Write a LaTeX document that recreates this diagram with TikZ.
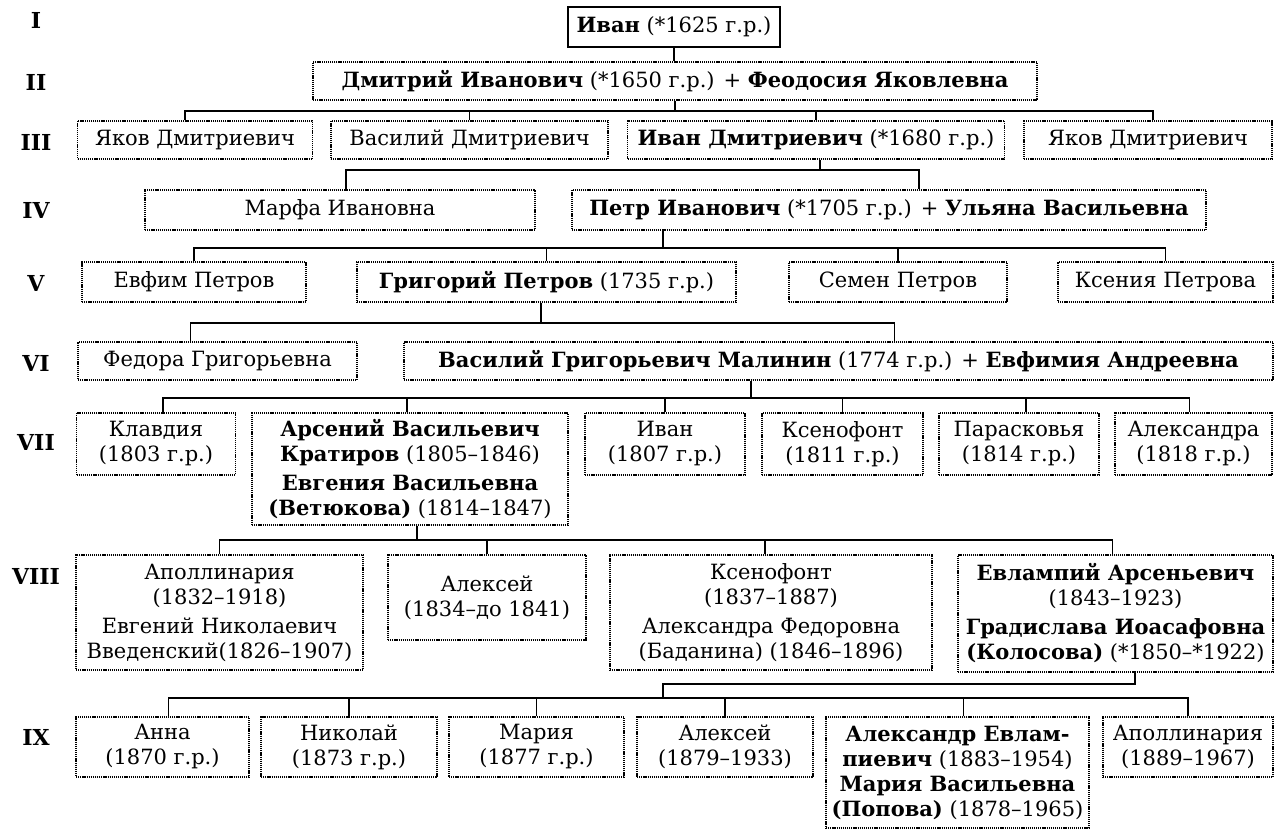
\documentclass[tikz,border=0pt]{standalone}
\usepackage{fontspec}
\setmainfont{DejaVu Serif}
\begin{document}
\begin{tikzpicture}[x=1pt,y=-1pt,
  person/.style={rectangle,draw=black,line width=1.2pt,dash pattern=on 1.2pt off 0.9pt,align=center,inner sep=1pt,font=\fontsize{21}{25}\selectfont},
  head/.style={person,solid},
  gen/.style={font=\fontsize{22}{26}\selectfont\bfseries},
  link/.style={line width=1.6pt}]
\useasboundingbox (0,0) rectangle (1275,833);

% generations
\node (g1) at (36,20)[gen]{I};
\node (g2) at (36,82)[gen]{II};
\node (g3) at (36,142)[gen]{III};
\node (g4) at (36,210)[gen]{IV};
\node (g5) at (36,283)[gen]{V};
\node (g6) at (36,363)[gen]{VI};
\node (g7) at (36,442)[gen]{VII};
\node (g8) at (36,576)[gen]{VIII};
\node (g9) at (36,737)[gen]{IX};

\node (r1) at (674,27)[head,minimum width=212,minimum height=40]{\textbf{Иван} (*1625 г.р.)};
\node (r2) at (675,81)[person,minimum width=724,minimum height=38]{\textbf{Дмитрий Иванович} (*1650 г.р.) + \textbf{Феодосия Яковлевна}};

\node (r3a) at (195,140)[person,minimum width=235,minimum height=38]{Яков Дмитриевич};
\node (r3b) at (469.5,140)[person,minimum width=277,minimum height=38]{Василий Дмитриевич};
\node (r3c) at (816,140)[person,minimum width=377,minimum height=38]{\textbf{Иван Дмитриевич} (*1680 г.р.)};
\node (r3d) at (1148,140)[person,minimum width=248,minimum height=38]{Яков Дмитриевич};

\node (r4a) at (340,210)[person,minimum width=390,minimum height=40]{Марфа Ивановна};
\node (r4b) at (889,210)[person,minimum width=634,minimum height=40]{\textbf{Петр Иванович} (*1705 г.р.) + \textbf{Ульяна Васильевна}};

\node (r5a) at (194,282)[person,minimum width=224,minimum height=40]{Евфим Петров};
\node (r5b) at (546.5,282)[person,minimum width=379,minimum height=40]{\textbf{Григорий Петров} (1735 г.р.)};
\node (r5c) at (898,282)[person,minimum width=218,minimum height=40]{Семен Петров};
\node (r5d) at (1165.5,282)[person,minimum width=215,minimum height=40]{Ксения Петрова};

\node (r6a) at (217.5,361)[person,minimum width=279,minimum height=38]{Федора Григорьевна};
\node (r6b) at (838.5,361)[person,minimum width=869,minimum height=38]{\textbf{Василий Григорьевич Малинин} (1774 г.р.) + \textbf{Евфимия Андреевна}};

\node (r7a) at (156,444)[person,minimum width=159,minimum height=62]{Клавдия\\(1803 г.р.)};
\node (r7b) at (410,469)[person,minimum width=316,minimum height=112]{\textbf{Арсений Васильевич}\\\textbf{Кратиров} (1805--1846)\\[4pt]\textbf{Евгения Васильевна}\\\textbf{(Ветюкова)} (1814--1847)};
\node (r7c) at (665,444)[person,minimum width=160,minimum height=62]{Иван\\(1807 г.р.)};
\node (r7d) at (842.5,444)[person,minimum width=161,minimum height=62]{Ксенофонт\\(1811 г.р.)};
\node (r7e) at (1019,444)[person,minimum width=160,minimum height=62]{Парасковья\\(1814 г.р.)};
\node (r7f) at (1193.5,444)[person,minimum width=157,minimum height=62]{Александра\\(1818 г.р.)};

\node (r8a) at (219.5,612.5)[person,minimum width=287,minimum height=115]{Аполлинария\\(1832--1918)\\[4pt]Евгений Николаевич\\Введенский(1826--1907)};
\node (r8b) at (487,597.5)[person,minimum width=198,minimum height=85]{Алексей\\(1834--до 1841)};
\node (r8c) at (771,612.5)[person,minimum width=322,minimum height=115]{Ксенофонт\\(1837--1887)\\[4pt]Александра Федоровна\\(Баданина) (1846--1896)};
\node (r8d) at (1115.5,613.5)[person,minimum width=315,minimum height=117]{\textbf{Евлампий Арсеньевич}\\(1843--1923)\\[4pt]\textbf{Градислава Иоасафовна}\\\textbf{(Колосова)} (*1850--*1922)};

\node (r9a) at (162.5,747)[person,minimum width=173,minimum height=60]{Анна\\(1870 г.р.)};
\node (r9b) at (349,747)[person,minimum width=176,minimum height=60]{Николай\\(1873 г.р.)};
\node (r9c) at (536.5,747)[person,minimum width=175,minimum height=60]{Мария\\(1877 г.р.)};
\node (r9d) at (725,747)[person,minimum width=176,minimum height=60]{Алексей\\(1879--1933)};
\node (r9e) at (957.5,772.5)[person,minimum width=263,minimum height=111]{\textbf{Александр Евлам-}\\\textbf{пиевич} (1883--1954)\\\textbf{Мария Васильевна}\\\textbf{(Попова)} (1878--1965)};
\node (r9f) at (1188,747)[person,minimum width=170,minimum height=60]{Аполлинария\\(1889--1967)};

% I -> II
\draw[link] (r1.south) -- (r1.south |- r2.north);

% II -> III
\coordinate (j2) at (675,111);
\draw[link] (r2.south) -- (j2);
\draw[link] ([xshift=-10]r3a.north) |- (j2) -| ([xshift=5]r3d.north);
\draw[link] (r3b.north) -- (r3b.north |- j2);
\draw[link] (r3c.north) -- (r3c.north |- j2);

% III -> IV
\coordinate (j3) at (820,170);
\draw[link] (j3 |- r3c.south) -- (j3);
\draw[link] ([xshift=6]r4a.north) |- (j3) -| ([xshift=30]r4b.north);

% IV -> V
\coordinate (j4) at (663,248);
\draw[link] (j4 |- r4b.south) -- (j4);
\draw[link] (r5a.north) |- (j4) -| (r5d.north);
\draw[link] (r5b.north) -- (r5b.north |- j4);
\draw[link] (r5c.north) -- (r5c.north |- j4);

% V -> VI
\coordinate (j5) at (541,323);
\draw[link] (j5 |- r5b.south) -- (j5);
\draw[link] ([xshift=-27]r6a.north) |- (j5) -| ([xshift=56]r6b.north);

% VI -> VII
\coordinate (j6) at (751,398);
\draw[link] (j6 |- r6b.south) -- (j6);
\draw[link] ([xshift=7]r7a.north) |- (j6) -| ([xshift=-4]r7f.north);
\draw[link] ([xshift=-3]r7b.north) -- ([xshift=-3]r7b.north |- j6);
\draw[link] (r7c.north) -- (r7c.north |- j6);
\draw[link] (r7d.north) -- (r7d.north |- j6);
\draw[link] ([xshift=7]r7e.north) -- ([xshift=7]r7e.north |- j6);

% VII -> VIII
\coordinate (j7) at (417,540);
\draw[link] (j7 |- r7b.south) -- (j7);
\draw[link] (r8a.north) |- (j7) -| ([xshift=-3]r8d.north);
\draw[link] (r8b.north) -- (r8b.north |- j7);
\draw[link] ([xshift=-6]r8c.north) -- ([xshift=-6]r8c.north |- j7);

% VIII -> IX
\coordinate (j8) at (1135,684);
\coordinate (j9) at (663,698);
\draw[link] (j8 |- r8d.south) -- (j8) -| (j9);
\draw[link] ([xshift=6]r9a.north) |- (j9) -| (r9f.north);
\draw[link] (r9b.north) -- (r9b.north |- j9);
\draw[link] (r9c.north) -- (r9c.north |- j9);
\draw[link] (r9d.north) -- (r9d.north |- j9);
\draw[link] ([xshift=6]r9e.north) -- ([xshift=6]r9e.north |- j9);
\end{tikzpicture}
\end{document}
